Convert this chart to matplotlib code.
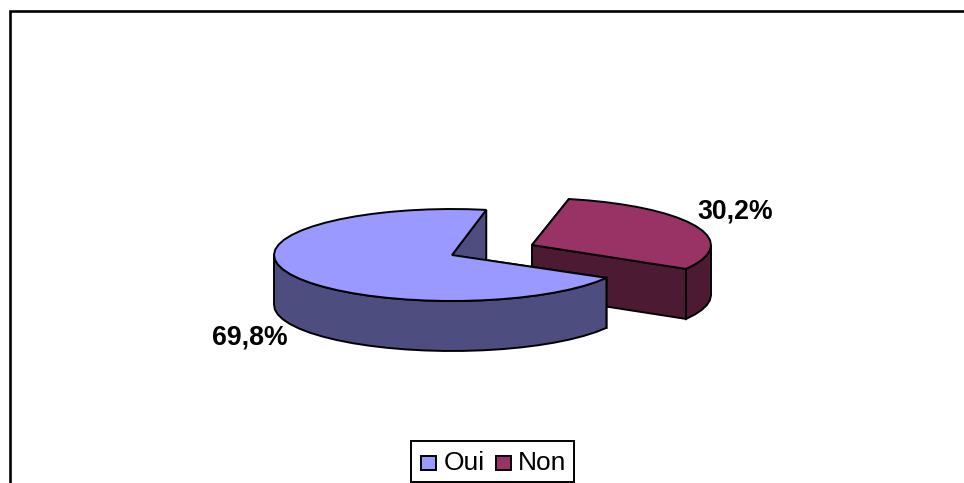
#!/usr/bin/env python

import numpy as np
import matplotlib
matplotlib.use('Agg')
import matplotlib.pyplot as plt
from matplotlib.patches import Polygon, Rectangle

categories = ['Oui', 'Non']
values = [69.8, 30.2]
value_labels = ['69,8%', '30,2%']

plt.rcParams['font.family'] = ['Liberation Sans', 'DejaVu Sans']

top_cols = {'Oui': '#9999ff', 'Non': '#993366'}
side_cols = {'Oui': '#4d4d80', 'Non': '#4d1a33'}
centers = {'Oui': (452, 255), 'Non': (532, 245)}
radii = {'Oui': (178, 46), 'Non': (179, 47)}
depth = 50
start = np.radians(11.9)
oui_turn = np.radians(-0.8)

fig = plt.figure(figsize=(9.64, 4.83), dpi=100)
ax = fig.add_axes([0, 0, 1, 1])
ax.set_xlim(0, 964)
ax.set_ylim(483, 0)
ax.axis('off')

# chart frame, runs off the page on the right and at the bottom
ax.plot([10, 10, 964], [483, 11, 11], color='black', lw=1.9, solid_capstyle='butt', solid_joinstyle='miter')


def arc(name, a0, a1):
    # angles clockwise from the top of the pie
    cx, cy = centers[name]
    rx, ry = radii[name]
    t = np.linspace(a0, a1, int(abs(a1 - a0) * 9) + 2)
    return t, cx + rx * np.sin(t), cy - ry * np.cos(t)


def poly(x, y, col, z):
    ax.add_patch(Polygon(np.column_stack([x, y]), closed=True, facecolor=col,
                         edgecolor='black', lw=1.4, joinstyle='miter', zorder=z))


def draw_slice(name, a0, a1, z):
    cx, cy = centers[name]
    t, x, y = arc(name, a0, a1)
    # cut faces
    for i in (0, -1):
        poly([cx, x[i], x[i], cx], [cy, y[i], y[i] + depth, cy + depth], side_cols[name], z)
    # outer wall, only the part that faces the viewer
    front = np.cos(t) <= 0.05
    xs, ys = x[front], y[front]
    poly(np.r_[xs, xs[::-1]], np.r_[ys, ys[::-1] + depth], side_cols[name], z)
    # top
    poly(np.r_[cx, x], np.r_[cy, y], top_cols[name], z + 0.5)


fracs = np.array(values) / np.sum(values) * 2 * np.pi
non_end = start + fracs[1]
draw_slice('Non', start, non_end, 2)
draw_slice('Oui', non_end + oui_turn, start + oui_turn + 2 * np.pi, 3)

ax.text(250, 337.5, value_labels[0], fontsize=19.2, fontweight='bold', ha='center', va='center', zorder=5)
ax.text(735.5, 211.5, value_labels[1], fontsize=19.2, fontweight='bold', ha='center', va='center', zorder=5)

# legend box
ax.add_patch(Rectangle((411, 441), 163, 41, facecolor='white', edgecolor='black', lw=1.4, zorder=6))
legend_x = [421, 496]
text_x = [444, 518]
for name, lx, tx in zip(categories, legend_x, text_x):
    ax.add_patch(Rectangle((lx, 456), 15, 14, facecolor=top_cols[name], edgecolor='black', lw=1.4, zorder=7))
    ax.text(tx, 463, name, fontsize=19, ha='left', va='center', zorder=7)

plt.savefig('out.png', format='png', dpi=100)
plt.close()
